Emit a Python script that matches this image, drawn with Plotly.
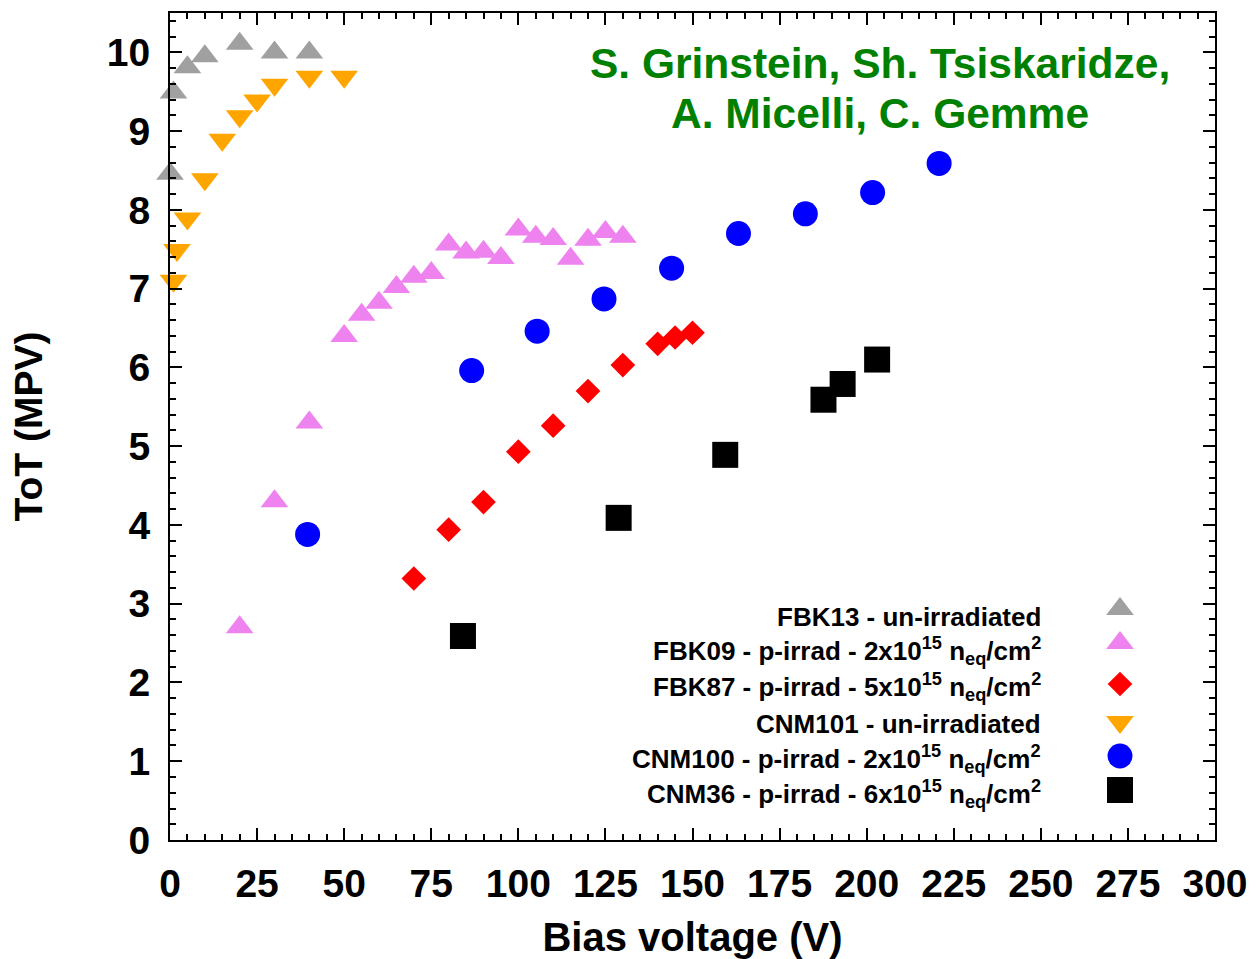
import plotly.graph_objects as go

# ---- data (bias voltage [V], ToT MPV) ----
fbk13_v = [0, 1, 5, 10, 20, 30, 40]
fbk13_tot = [8.46, 9.49, 9.81, 9.95, 10.11, 10.0, 10.0]

fbk09_v = [20, 30, 40, 50, 55, 60, 65, 70, 75, 80, 85, 90, 95, 100, 105, 110, 115, 120, 125, 130]
fbk09_tot = [2.70, 4.30, 5.30, 6.40, 6.67, 6.82, 7.02, 7.15, 7.20, 7.56, 7.46, 7.47, 7.39, 7.75,
             7.66, 7.63, 7.38, 7.62, 7.72, 7.66]

fbk87_v = [70, 80, 90, 100, 110, 120, 130, 140, 145, 150]
fbk87_tot = [3.32, 3.94, 4.29, 4.93, 5.26, 5.70, 6.03, 6.30, 6.38, 6.44]

cnm101_v = [1, 2, 5, 10, 15, 20, 25, 30, 40, 50]
cnm101_tot = [7.10, 7.49, 7.89, 8.39, 8.89, 9.19, 9.39, 9.59, 9.69, 9.69]

cnm100_v = [39.5, 86.6, 105.4, 124.6, 144.0, 163.2, 182.4, 201.7, 220.8]
cnm100_tot = [3.88, 5.96, 6.46, 6.87, 7.26, 7.70, 7.95, 8.22, 8.59]

cnm36_v = [84.1, 128.8, 159.4, 187.6, 193.1, 203.0]
cnm36_tot = [2.59, 4.09, 4.89, 5.59, 5.79, 6.10]

series_names = [
    "FBK13 - un-irradiated",
    "FBK09 - p-irrad - 2x10<sup>15</sup> n<sub>eq</sub>/cm<sup>2</sup>",
    "FBK87 - p-irrad - 5x10<sup>15</sup> n<sub>eq</sub>/cm<sup>2</sup>",
    "CNM101 - un-irradiated",
    "CNM100 - p-irrad - 2x10<sup>15</sup> n<sub>eq</sub>/cm<sup>2</sup>",
    "CNM36 - p-irrad - 6x10<sup>15</sup> n<sub>eq</sub>/cm<sup>2</sup>",
]
series_x = [fbk13_v, fbk09_v, fbk87_v, cnm101_v, cnm100_v, cnm36_v]
series_y = [fbk13_tot, fbk09_tot, fbk87_tot, cnm101_tot, cnm100_tot, cnm36_tot]
colors = ["#a0a0a0", "#ee82ee", "#ff0000", "#ffa500", "#0000ff", "#000000"]
symbols = ["triangle-up", "triangle-up", "diamond", "triangle-down", "circle", "square"]
sizes = [24, 24, 19, 24, 25, 26]

FONT = "Liberation Sans, Arial, Helvetica, sans-serif"

# figure geometry (pixels)
W, H = 1256, 959
ML, MR, MT, MB = 170, 41, 13, 119
PW, PH = W - ML - MR, H - MT - MB

def px_x(p):
    return (p - ML) / PW

def px_y(p):
    return (H - MB - p) / PH

# legend rows (pixel positions of marker centres / text centres)
legend_marker_py = [609, 643, 684, 722, 756, 790]
legend_text_py = [617, 651, 687, 724, 759, 794]
legend_marker_px = 1120
legend_text_px = 1043

fig = go.Figure()

for name, xs, ys, c, s, sz in zip(series_names, series_x, series_y, colors, symbols, sizes):
    fig.add_trace(go.Scatter(
        x=xs, y=ys, mode="markers", name=name, showlegend=False,
        marker=dict(symbol=s, size=sz, color=c, line=dict(width=0)),
        cliponaxis=False,
    ))

# legend markers on an overlay axis spanning the plot area in fractional units
for i, (c, s, sz) in enumerate(zip(colors, symbols, sizes)):
    fig.add_trace(go.Scatter(
        x=[px_x(legend_marker_px)], y=[px_y(legend_marker_py[i])],
        xaxis="x2", yaxis="y2", mode="markers", showlegend=False,
        marker=dict(symbol=s, size=sz, color=c, line=dict(width=0)),
        hoverinfo="skip",
    ))
    fig.add_annotation(
        xref="paper", yref="paper", x=px_x(legend_text_px), y=px_y(legend_text_py[i]),
        text=series_names[i], showarrow=False, xanchor="right", yanchor="middle",
        font=dict(family=FONT, size=26, color="black", weight="bold"),
    )

# author annotation
fig.add_annotation(xref="paper", yref="paper", x=px_x(880), y=px_y(63),
                   text="S. Grinstein, Sh. Tsiskaridze,", showarrow=False,
                   xanchor="center", yanchor="middle",
                   font=dict(family=FONT, size=42.5, color="#008000", weight="bold"))
fig.add_annotation(xref="paper", yref="paper", x=px_x(880), y=px_y(113),
                   text="A. Micelli, C. Gemme", showarrow=False,
                   xanchor="center", yanchor="middle",
                   font=dict(family=FONT, size=42.5, color="#008000", weight="bold"))

axis_common = dict(
    showgrid=False, zeroline=False, showline=True, linecolor="black", linewidth=2,
    ticks="inside", ticklen=12, tickwidth=2, tickcolor="black", mirror="allticks",
    tickfont=dict(family=FONT, size=39, color="black", weight="bold"),
    automargin=False,
)

fig.update_layout(
    width=W, height=H,
    margin=dict(l=ML, r=MR, t=MT, b=MB),
    plot_bgcolor="white", paper_bgcolor="white",
    xaxis=dict(range=[0, 300], tick0=0, dtick=25,
               minor=dict(dtick=5, ticks="inside", ticklen=6, tickwidth=1.5, tickcolor="black"),
               title=dict(text="Bias voltage (V)", standoff=22,
                          font=dict(family=FONT, size=40, color="black", weight="bold")),
               ticklabelstandoff=8,
               **axis_common),
    yaxis=dict(range=[0, 10.5], tick0=0, dtick=1,
               minor=dict(dtick=0.2, ticks="inside", ticklen=6, tickwidth=1.5, tickcolor="black"),
               title=dict(text="ToT (MPV)", standoff=52,
                          font=dict(family=FONT, size=39, color="black", weight="bold")),
               ticklabelstandoff=10,
               **axis_common),
    xaxis2=dict(range=[0, 1], overlaying="x", visible=False, fixedrange=True),
    yaxis2=dict(range=[0, 1], overlaying="y", visible=False, fixedrange=True),
)

fig.write_html("out.html")
